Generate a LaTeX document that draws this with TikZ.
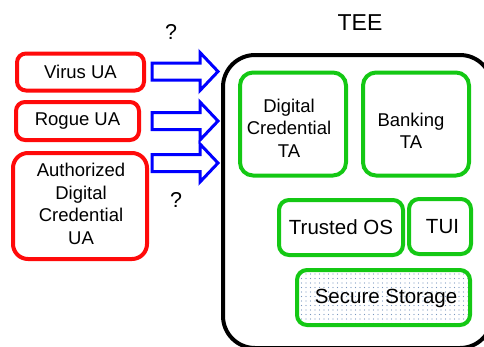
\documentclass[tikz,border=0pt]{standalone}
\usepackage{fontspec}
\setmainfont{Liberation Sans}
\usetikzlibrary{patterns.meta,calc}
\definecolor{uared}{RGB}{255,10,10}
\definecolor{tagreen}{RGB}{20,200,20}
\definecolor{arrowblue}{RGB}{0,0,255}
\definecolor{dotblue}{RGB}{120,150,190}
\tikzset{
  uabox/.style={draw=uared, line width=4pt, rounded corners=9pt, fill=white,
    font=\fontsize{18.5}{22.5}\selectfont, align=center, inner sep=0pt},
  tabox/.style={draw=tagreen, line width=4pt, rounded corners=13pt, fill=white,
    inner sep=0pt},
  teebox/.style={draw=black, line width=4pt, rounded corners=32pt},
  lbl/.style={font=\fontsize{18.5}{22.5}\selectfont, align=center, inner sep=0pt},
  blockarrow/.style={draw=arrowblue, line width=3pt, miter limit=10, fill=white},
}
\begin{document}
\begin{tikzpicture}[x=1pt,y=-1pt]
\useasboundingbox (0,0) rectangle (484,346);
\clip (0,0) rectangle (484,346);

% the trusted execution environment
\draw[teebox] (223,55) rectangle (492,348);
\node[lbl, font=\fontsize{23}{27}\selectfont] (teelabel) at (360,23) {TEE};

% untrusted applications
\node[uabox, minimum width=127pt, minimum height=37pt] (virus) at (80.5,72) {Virus UA};
\node[uabox, minimum width=123pt, minimum height=38pt] (rogue) at (77.5,121) {Rogue UA};
\node[uabox, rounded corners=15pt, minimum width=134pt, minimum height=106pt] (auth) at (80,206) {};
\node[lbl] (authtext) at ($(auth)+(1,-2)$) {Authorized\\Digital\\Credential\\UA};

% trusted applications and components
\node[tabox, minimum width=106pt, minimum height=103pt] (dcta) at (293,124) {};
\node[lbl] (dctext) at ($(dcta)+(-4,4)$) {Digital\\Credential\\TA};
\node[tabox, minimum width=106pt, minimum height=103pt] (bankta) at (416,124) {};
\node[lbl] (banktext) at ($(bankta)+(-5,7)$) {Banking\\TA};
\node[tabox, rounded corners=10pt, minimum width=124pt, minimum height=55pt,
  font=\fontsize{20.5}{24}\selectfont] (tos) at (341,227.5) {Trusted OS};
\node[tabox, rounded corners=10pt, minimum width=62pt, minimum height=55pt,
  font=\fontsize{20.5}{24}\selectfont] (tui) at (440,226.5) {\hspace{5pt}TUI};
\node[tabox, rounded corners=10pt, minimum width=173pt, minimum height=55pt,
  pattern={Dots[distance=4.5pt, radius=0.6pt]}, pattern color=dotblue] (store) at (383.5,297.5) {};
\node[lbl, font=\fontsize{20.5}{24}\selectfont] (storetext) at ($(store)+(2.5,1)$) {Secure Storage};

% block arrows from the applications towards the TEE
\foreach \src/\yy in {virus/71.5, rogue/121, auth/163}{
  \draw[blockarrow]
    (152,\yy-8.5) -- (200,\yy-8.5) -- (200,\yy-19) -- (218,\yy)
    -- (200,\yy+19) -- (200,\yy+8.5) -- (152,\yy+8.5) -- cycle;
}

% question marks
\node[lbl, font=\fontsize{21.5}{24}\selectfont] (q1) at (171,32) {?};
\node[lbl, font=\fontsize{21.5}{24}\selectfont] (q2) at (176,200) {?};
\end{tikzpicture}
\end{document}
